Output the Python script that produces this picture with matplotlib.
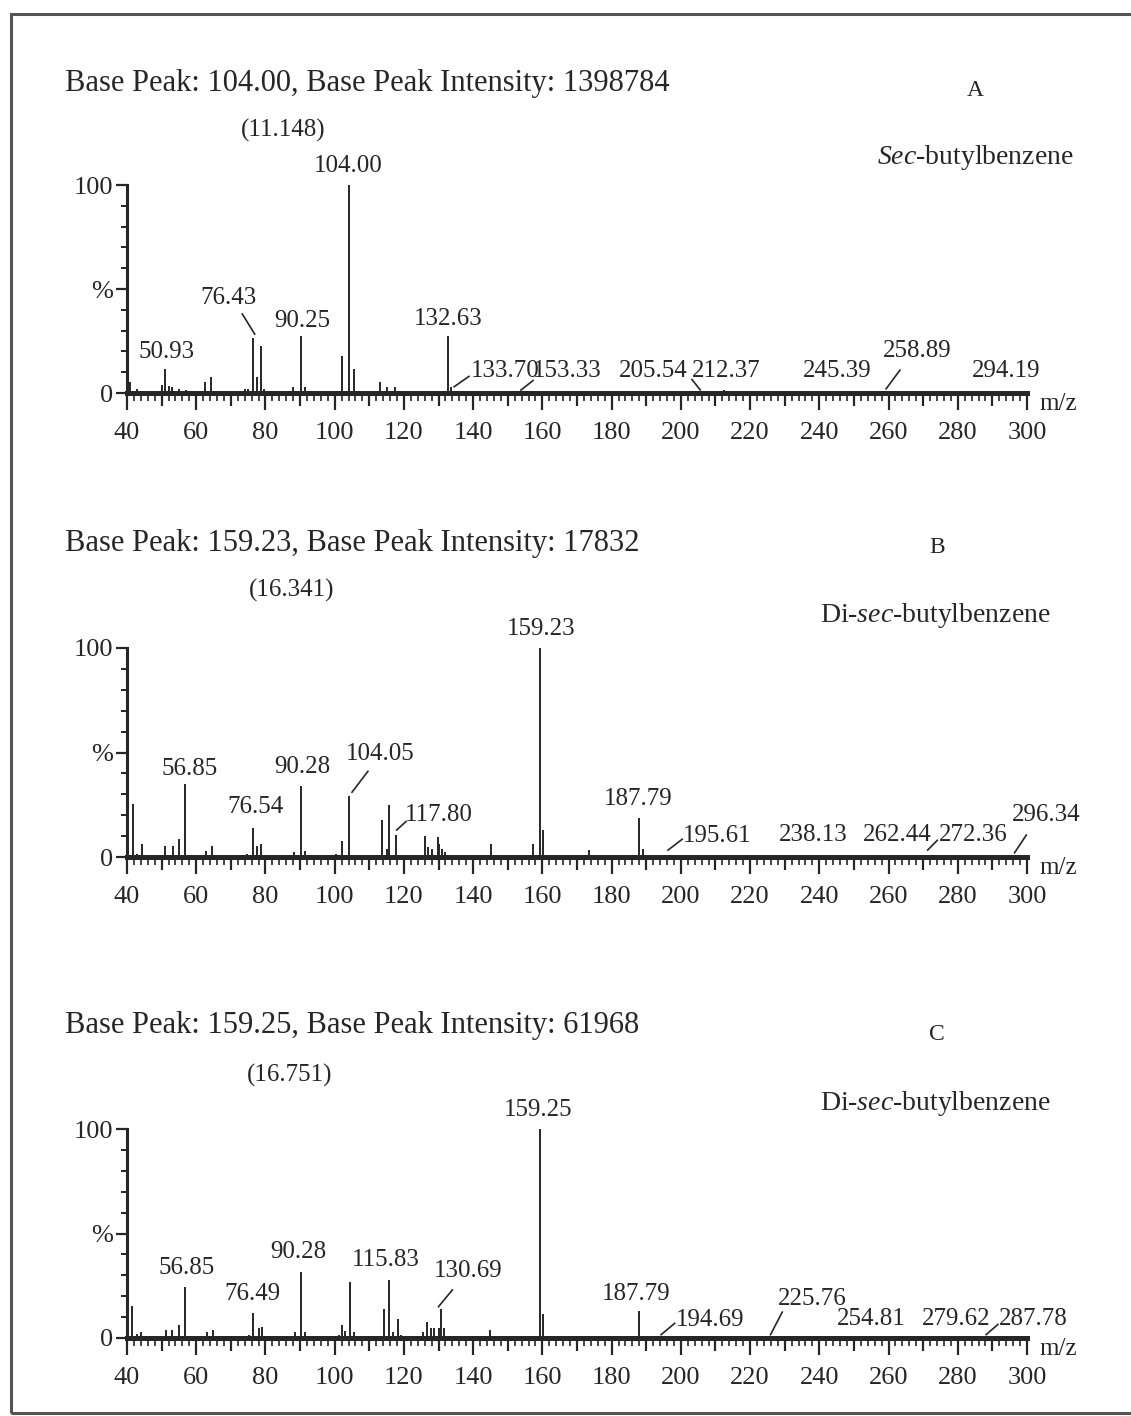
import matplotlib
matplotlib.use("Agg")
import matplotlib.pyplot as plt
from matplotlib.patches import Rectangle

plt.rcParams['mathtext.fontset'] = 'custom'
plt.rcParams['mathtext.rm'] = 'Liberation Serif'
plt.rcParams['mathtext.it'] = 'Liberation Serif:italic'

W, H = 1131, 1416
NUM_FONT = ['Liberation Serif', 'DejaVu Serif']
TITLE_FONT = ['Liberation Serif', 'DejaVu Serif']
INK = '#262626'

# ---------------- data ----------------
titles = ["Base Peak: 104.00, Base Peak Intensity: 1398784",
          "Base Peak: 159.23, Base Peak Intensity: 17832",
          "Base Peak: 159.25, Base Peak Intensity: 61968"]
retention = ["(11.148)", "(16.341)", "(16.751)"]
panel_ids = ["A", "B", "C"]
compounds = [("Sec", "-butylbenzene"), ("Di-", "sec", "-butylbenzene"), ("Di-", "sec", "-butylbenzene")]

mzA = [41, 43, 50, 50.93, 52, 53, 55, 57, 62.6, 64.3, 74, 75, 76.43, 77.5, 78.6, 79.7,
       88, 90.25, 91.3, 102, 104.00, 105.5, 113, 115, 117.4, 132.63, 133.70, 153.33,
       205.54, 212.37, 245.39, 258.89, 294.19]
intA = [5.5, 2, 4, 11.6, 3.5, 3, 2, 1.5, 5.5, 7.5, 2, 2, 26.5, 7.5, 22.5, 2,
        3, 27.3, 3, 17.7, 100, 11.6, 5.5, 3, 3, 27.3, 3, 1,
        1, 1.5, 1, 1, 1]

mzB = [40.3, 41.6, 43, 44.3, 48, 51.1, 53.3, 55.1, 56.85, 62.7, 64.6, 74.7, 76.54, 77.6,
       78.8, 88.3, 90.28, 91.3, 100.3, 102, 104.05, 113.8, 115, 115.6, 117.80, 126, 127,
       128, 129.7, 130.2, 131, 132, 145.2, 157.4, 159.23, 160.2, 173.5, 187.79, 189,
       195.61, 238.13, 262.44, 272.36, 296.34]
intB = [2.4, 25.4, 1.6, 6.3, 1, 5.2, 5.2, 8.4, 34.9, 2.7, 5.2, 1.3, 13.8, 5.2,
        6.3, 2.4, 33.8, 2.7, 1.3, 7.6, 29, 17.5, 3.7, 24.9, 10.3, 10, 4.8,
        3.7, 9.8, 6.3, 4, 2.4, 6, 6, 100, 12.7, 3.5, 18.6, 3.6,
        1, 1, 1, 1, 1]

mzC = [40.3, 41.4, 42.9, 44, 51.2, 53.1, 55, 56.85, 63.1, 64.8, 75.2, 76.49, 78, 79,
       88.6, 90.28, 91.4, 101.1, 102.1, 103, 104.5, 105.5, 114.3, 115.83, 116.8, 118.2,
       119.2, 125.6, 126.7, 127.7, 128.7, 130, 130.69, 131.6, 145, 159.25, 160.2, 187.79,
       194.69, 225.76, 254.81, 279.62, 287.78]
intC = [2, 15.4, 2, 3, 4, 4, 6.4, 24.2, 2.7, 4, 1.4, 11.8, 5, 5.4,
        2.7, 31.6, 2.7, 1.4, 6.4, 3.2, 26.9, 2.7, 14.1, 27.7, 2.7, 9,
        1.4, 2.7, 7.8, 5, 5, 5, 14.1, 5, 4, 100, 11.5, 12.8,
        1, 1, 1, 1, 1]

xticks = [40, 60, 80, 100, 120, 140, 160, 180, 200, 220, 240, 260, 280, 300]

# ------------- layout (label positions, leaders) -------------
# (text, x, y, ha, leader or None)
labelsA = [
    ("104.00", 104.0, 104, 'center', None),
    ("76.43", 69.2, 40.5, 'center', ((73.3, 38.0), (76.9, 28.3))),
    ("90.25", 90.6, 29.5, 'center', None),
    ("50.93", 51.3, 14.5, 'center', None),
    ("132.63", 132.7, 30.5, 'center', None),
    ("133.70", 139.2, 5.5, 'left', ((134.5, 3.0), (138.8, 8.0))),
    ("153.33", 157.2, 5.5, 'left', ((153.8, 1.4), (157.3, 6.0))),
    ("205.54", 192.0, 5.5, 'center', None),
    ("212.37", 213.0, 5.5, 'center', ((203.2, 6.5), (205.6, 1.5))),
    ("245.39", 245.3, 5.5, 'center', None),
    ("258.89", 268.4, 15.0, 'center', ((263.3, 11.0), (259.3, 2.0))),
    ("294.19", 294.0, 5.5, 'center', None),
]
labelsB = [
    ("159.23", 159.6, 104, 'center', None),
    ("56.85", 58.2, 37.0, 'center', None),
    ("76.54", 77.0, 18.5, 'center', None),
    ("90.28", 90.6, 38.0, 'center', None),
    ("104.05", 113.1, 44.0, 'center', ((109.6, 41.0), (105.0, 31.0))),
    ("117.80", 120.4, 15.0, 'left', ((117.9, 12.9), (120.6, 17.0))),
    ("187.79", 187.6, 22.5, 'center', None),
    ("195.61", 200.6, 5.0, 'left', ((196.3, 3.3), (200.4, 8.5))),
    ("238.13", 238.2, 5.5, 'center', None),
    ("262.44", 262.6, 5.5, 'center', None),
    ("272.36", 274.4, 5.5, 'left', ((271.3, 3.3), (274.1, 8.0))),
    ("296.34", 305.5, 15.0, 'center', ((296.4, 2.0), (299.8, 10.5))),
]
labelsC = [
    ("159.25", 158.7, 104, 'center', None),
    ("56.85", 57.3, 28.0, 'center', None),
    ("76.49", 76.1, 16.0, 'center', None),
    ("90.28", 89.4, 36.0, 'center', None),
    ("115.83", 114.8, 32.0, 'center', None),
    ("130.69", 138.5, 27.0, 'center', ((134.0, 23.0), (130.0, 15.0))),
    ("187.79", 187.0, 16.0, 'center', None),
    ("194.69", 198.6, 3.5, 'left', ((194.3, 1.6), (198.2, 7.0))),
    ("225.76", 237.9, 13.5, 'center', ((229.3, 12.4), (225.9, 1.6))),
    ("254.81", 255.0, 4.0, 'center', None),
    ("279.62", 279.6, 4.0, 'center', None),
    ("287.78", 291.9, 4.0, 'left', ((288.2, 1.6), (291.6, 6.5))),
]

# pixel geometry per panel
panels = [
    (mzA, intA, labelsA, 393, 185, 83, 130, 975, 90, 975, 157, 283),
    (mzB, intB, labelsB, 857, 648, 543, 590, 937, 548, 935, 615, 292),
    (mzC, intC, labelsC, 1338, 1129, 1025, 1075, 937, 1035, 935, 1104, 290),
]

fig = plt.figure(figsize=(W / 100, H / 100), dpi=100)
fig.patch.set_facecolor('white')

# outer frame
fig.add_artist(Rectangle((10.5 / W, 1 - 1413 / H), 1.2, (1413 - 14) / H,
                         transform=fig.transFigure, fill=False, lw=2.2,
                         edgecolor='#555555'))

X0, X1 = 127, 1027
for i, (mz, inten, labels, y0, y100, ty, rty, idx, idy, cx, cy, rtx) in enumerate(panels):
    ax = fig.add_axes([X0 / W, 1 - y0 / H, (X1 - X0) / W, (y0 - y100) / H])
    ax.set_xlim(40, 300)
    ax.set_ylim(0, 100)
    ax.patch.set_alpha(0)
    for s in ('top', 'right'):
        ax.spines[s].set_visible(False)
    ax.spines['left'].set_linewidth(2.2)
    ax.spines['bottom'].set_linewidth(3.6)
    ax.spines['left'].set_color(INK)
    ax.spines['bottom'].set_color(INK)

    ax.vlines(mz, 0, inten, colors=INK, linewidth=1.4, clip_on=False)

    ax.set_xticks(xticks)
    ax.set_xticks(list(range(42, 300, 2)), minor=True)
    ax.tick_params(axis='x', which='major', direction='out', length=12, width=1.6,
                   pad=9, labelsize=19, colors=INK)
    ax.tick_params(axis='x', which='minor', direction='out', length=5.5, width=1.2,
                   colors=INK)
    for t in range(50, 300, 20):
        ax.plot([t, t], [0, -6.2], color=INK, lw=1.6, clip_on=False,
                solid_capstyle='butt')
    for lab in ax.get_xticklabels():
        lab.set_family(NUM_FONT)

    ax.set_yticks([0, 50, 100])
    ax.set_yticklabels(["0", "%", "100"])
    ax.set_yticks(list(range(10, 100, 10)), minor=True)
    ax.tick_params(axis='y', which='major', direction='out', length=8, width=1.6,
                   pad=2, labelsize=19, colors=INK)
    ax.tick_params(axis='y', which='minor', direction='out', length=4, width=1.4,
                   colors=INK)
    for lab in ax.get_yticklabels():
        lab.set_family(NUM_FONT)

    ax.text(303.5, -5.5, "m/z", fontsize=18, family=NUM_FONT, ha='left', va='center',
            color=INK, clip_on=False)

    for (txt, x, y, ha, leader) in labels:
        ax.text(x, y, txt, fontsize=18, family=NUM_FONT, ha=ha, va='bottom',
                color=INK, clip_on=False)
        if leader is not None:
            (xa, ya), (xb, yb) = leader
            ax.plot([xa, xb], [ya, yb], color=INK, lw=1.2, clip_on=False)

    fig.text(65 / W, 1 - ty / H, titles[i], fontsize=22, family=TITLE_FONT,
             ha='left', va='center', color=INK)
    fig.text(rtx / W, 1 - rty / H, retention[i], fontsize=18, family=TITLE_FONT,
             ha='center', va='center', color=INK)
    fig.text(idx / W, 1 - idy / H, panel_ids[i], fontsize=17, family=TITLE_FONT,
             ha='center', va='center', color=INK)
    parts = compounds[i]
    if len(parts) == 2:
        s = r"$\mathit{" + parts[0] + "}$" + parts[1]
    else:
        s = parts[0] + r"$\mathit{" + parts[1] + "}$" + parts[2]
    fig.text(cx / W, 1 - cy / H, s, fontsize=20, family=TITLE_FONT,
             ha='center', va='center', color=INK)

fig.savefig("out.png", dpi=100, facecolor='white')
